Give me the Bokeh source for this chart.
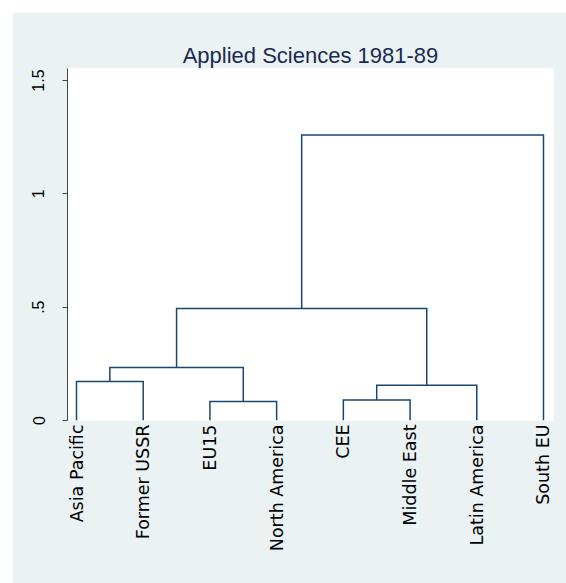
import math
from bokeh.plotting import figure
from bokeh.models import FixedTicker, Spacer
from bokeh.layouts import column, row
from bokeh.embed import file_html
from bokeh.resources import INLINE

# ---- data ----
leaves = ["Asia Pacific", "Former USSR", "EU15", "North America",
          "CEE", "Middle East", "Latin America", "South EU"]
# linkage: leaves are nodes 0..7, each merge creates node 8, 9, ...
merge_left = [2, 4, 9, 0, 11, 12, 13]
merge_right = [3, 5, 6, 1, 8, 10, 7]
merge_height = [0.084, 0.090, 0.155, 0.172, 0.234, 0.494, 1.26]

y_ticks = [0, 0.5, 1, 1.5]
y_tick_labels = ["0", ".5", "1", "1.5"]

title_text = "Applied Sciences 1981-89"

# ---- build dendrogram paths from linkage ----
node_x = [i + 1 for i in range(len(leaves))]
node_h = [0.0] * len(leaves)
xs, ys = [], []
for l, r, h in zip(merge_left, merge_right, merge_height):
    xl, xr = node_x[l], node_x[r]
    xs.append([xl, xl, xr, xr])
    ys.append([node_h[l], h, h, node_h[r]])
    node_x.append((xl + xr) / 2)
    node_h.append(h)

BG = "#EAF2F3"
LINE = "#1A476F"

p = figure(width=554, height=571, x_range=(0.865, 8.15), y_range=(0, 1.553),
           output_backend="svg", toolbar_location=None,
           min_border_left=55, min_border_top=56, min_border_right=13,
           min_border_bottom=163)
p.background_fill_color = "white"
p.border_fill_color = BG
p.outline_line_color = None
p.xgrid.grid_line_color = None
p.ygrid.grid_line_color = None

p.title.text = title_text
p.title.align = "center"
p.title.text_font = "Liberation Sans"
p.title.text_font_size = "22px"
p.title.text_font_style = "normal"
p.title.text_color = "#1B2A52"
p.title.standoff = 2

p.multi_line(xs=xs, ys=ys, line_color=LINE, line_width=1.5, line_join="miter")

ya = p.yaxis[0]
ya.ticker = FixedTicker(ticks=y_ticks)
ya.major_label_overrides = {t: s for t, s in zip(y_ticks, y_tick_labels)}
ya.major_label_orientation = "vertical"
ya.major_tick_out = 5
ya.major_tick_in = 0
ya.minor_tick_line_color = None
ya.axis_line_color = "#444444"
ya.major_tick_line_color = "#444444"
ya.major_label_text_font = "Liberation Sans"
ya.major_label_text_font_size = "16px"
ya.major_label_text_color = "black"
ya.major_label_standoff = 18

xa = p.xaxis[0]
xa.ticker = FixedTicker(ticks=list(range(1, len(leaves) + 1)))
xa.major_label_overrides = {i + 1: s for i, s in enumerate(leaves)}
xa.major_label_orientation = math.pi / 2
xa.axis_line_color = None
xa.major_tick_line_color = None
xa.minor_tick_line_color = None
xa.major_tick_out = 0
xa.major_tick_in = 0
xa.major_label_standoff = 4
xa.major_label_text_font = "DejaVu Sans"
xa.major_label_text_font_size = "17.5px"
xa.major_label_text_color = "black"

layout = column(Spacer(width=566, height=12),
                row(Spacer(width=12, height=571), p))

open("out.html", "w").write(file_html(layout, INLINE))
